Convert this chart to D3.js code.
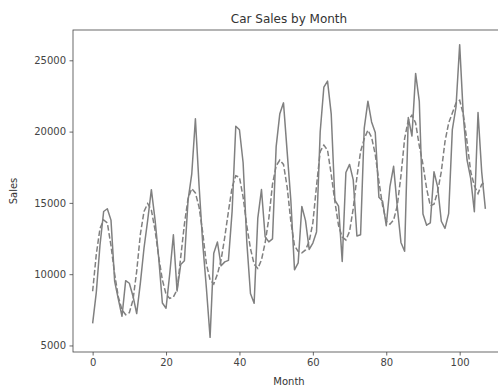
<!DOCTYPE html>
<html><head><meta charset="utf-8">
<script src="https://cdn.jsdelivr.net/npm/d3@7"></script>
<style>body{margin:0;background:#fff}svg{display:block}text{font-family:"DejaVu Sans",sans-serif}</style>
</head><body><svg id="c" width="498" height="386"></svg>
<script>
const sales = [6550,8728,12026,14395,14587,13791,9498,8251,7049,9545,9364,8456,
7237,9374,11837,13784,15926,13821,11143,7975,7610,10015,12759,8816,
10677,10947,15200,17010,20900,16205,12143,8997,5568,11474,12256,10583,
10862,10965,14405,20379,20128,17816,12268,8642,7962,13932,15936,12628,
12267,12470,18944,21259,22015,18581,15175,10306,10792,14752,13754,11738,
12181,12965,19990,23125,23541,21247,15189,14767,10895,17130,17697,16611,
12674,12760,20249,22135,20677,19933,15388,15113,13401,16135,17562,14720,
12225,11608,20985,19692,24081,22114,14220,13434,13598,17187,16119,13713,
13210,14251,20139,21725,26099,21084,18024,16722,14385,21342,17180,14577];
const predicted = [8800,11400,13200,13800,13600,12000,10000,8400,7500,7150,7300,8200,
10200,12800,14400,14950,14500,13100,11200,9600,8600,8300,8400,8900,
11200,13500,15300,16000,15700,14700,12900,10700,9600,9300,10000,11000,
12600,14400,16100,16900,16800,15400,13400,11800,10700,10400,11000,12200,
13900,16300,17600,18000,17700,16100,13700,12000,11600,11500,11700,12300,
13600,16200,18600,19050,18700,17000,15100,13400,12600,12400,13000,14600,
16800,18600,19500,20100,19600,18400,16500,14800,13700,13500,13800,14800,
16900,19500,20800,21150,20600,19000,17700,16000,14800,14900,15800,17200,
19300,20600,21300,22000,22200,21200,19300,17200,16200,15650,16300,16400];
const xTicks = [0,20,40,60,80,100];
const yTicks = [5000,10000,15000,20000,25000];
const title = "Car Sales by Month", xLabel = "Month", yLabel = "Sales";

const svg = d3.select("#c");
const L = 73, R = 505, T = 30, B = 352;
const n = sales.length;
const allV = sales.concat(predicted);
const xmin = 0, xmax = n - 1, xpad = (xmax - xmin) * 0.05;
const ymin = d3.min(allV), ymax = d3.max(allV), ypad = (ymax - ymin) * 0.05;
const x = d3.scaleLinear().domain([xmin - xpad, xmax + xpad]).range([L, R]);
const y = d3.scaleLinear().domain([ymin - ypad, ymax + ypad]).range([B, T]);

const ink = "#444";
const line = d3.line().x((d, i) => x(i)).y(d => y(d));
const g = svg.append("g");
g.append("path").datum(sales).attr("d", line).attr("fill", "none")
  .attr("stroke", "#808080").attr("stroke-width", 1.5).attr("stroke-linejoin", "round");
g.append("path").datum(predicted).attr("d", line).attr("fill", "none")
  .attr("stroke", "#808080").attr("stroke-width", 1.5).attr("stroke-dasharray", "5.55,2.4");

const xa = svg.append("g").attr("transform", `translate(0,${B})`)
  .call(d3.axisBottom(x).tickValues(xTicks).tickSize(3.5).tickPadding(3.5).tickFormat(d3.format("d")));
const ya = svg.append("g").attr("transform", `translate(${L},0)`)
  .call(d3.axisLeft(y).tickValues(yTicks).tickSize(3.5).tickPadding(3.5).tickFormat(d3.format("d")));
[xa, ya].forEach(a => {
  a.select(".domain").remove();
  a.selectAll("line").attr("stroke", ink).attr("stroke-width", 0.8);
  a.selectAll("text").attr("fill", ink).style("font-size", "10px").style("font-family", "DejaVu Sans");
});
svg.append("rect").attr("x", L).attr("y", T).attr("width", R - L).attr("height", B - T)
  .attr("fill", "none").attr("stroke", ink).attr("stroke-width", 0.8);

svg.append("text").attr("x", (L + R) / 2).attr("y", 23).attr("text-anchor", "middle")
  .attr("fill", "#333").style("font-size", "12px").text(title);
svg.append("text").attr("x", (L + R) / 2).attr("y", 384.5).attr("text-anchor", "middle")
  .attr("fill", "#333").style("font-size", "10px").text(xLabel);
svg.append("text").attr("transform", `translate(17,${(T + B) / 2}) rotate(-90)`).attr("text-anchor", "middle")
  .attr("fill", "#333").style("font-size", "10px").text(yLabel);
</script></body></html>
